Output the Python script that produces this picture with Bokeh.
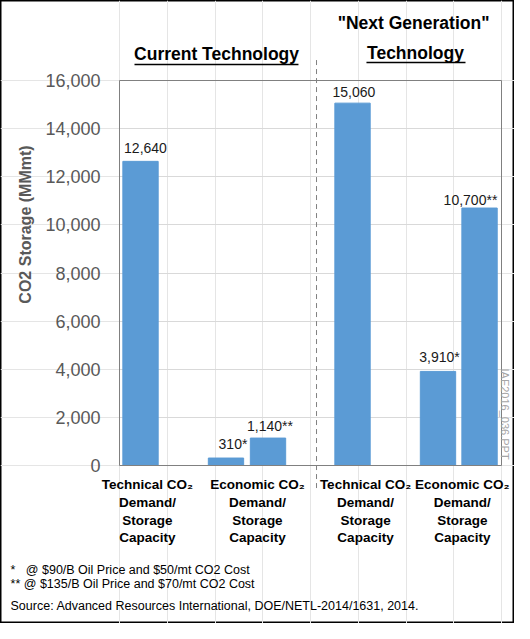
import math
from bokeh.plotting import figure
from bokeh.models import (Range1d, Label, FixedTicker, NumeralTickFormatter,
                          ColumnDataSource, LinearAxis, Grid)
from bokeh.embed import file_html
from bokeh.resources import INLINE

# ---------------- data ----------------
groups = ["Current Technology", "Current Technology", "Current Technology",
          "Next Generation Technology", "Next Generation Technology", "Next Generation Technology"]
bar_names = ["Technical", "Economic *", "Economic **", "Technical", "Economic *", "Economic **"]
values = [12640, 310, 1140, 15060, 3910, 10700]
value_labels = ["12,640", "310*", "1,140**", "15,060", "3,910*", "10,700**"]

category_lines = [
    ["Technical CO\u2082", "Demand/", "Storage", "Capacity"],
    ["Economic CO\u2082", "Demand/", "Storage", "Capacity"],
    ["Technical CO\u2082", "Demand/", "Storage", "Capacity"],
    ["Economic CO\u2082", "Demand/", "Storage", "Capacity"],
]
y_ticks = [0, 2000, 4000, 6000, 8000, 10000, 12000, 14000, 16000]
y_title = "CO2 Storage (MMmt)"
group_titles = ["Current Technology", "\"Next Generation\"", "Technology"]
footnotes = ["*\u00a0\u00a0\u00a0@ $90/B Oil Price and $50/mt CO2 Cost",
             "** @ $135/B Oil Price and $70/mt CO2 Cost"]
source_note = "Source: Advanced Resources International, DOE/NETL-2014/1631, 2014."
watermark = "IAE2016_036.PPT"

# ---------------- layout ----------------
X0, X1 = 0, 4          # plot area in x units
Y0, Y1 = 0, 16000      # plot area in y units
bar_x = [0.22, 1.115, 1.555, 2.44, 3.335, 3.77]
bar_w = 0.37
label_x = [0.272, 1.188, 1.576, 2.455, 3.351, 3.675]
label_dy = [575, 563, 522, 483, 620, 333]
cat_x = [0.293, 1.445, 2.576, 3.59]
cat_y = [-790, -1537, -2265, -2992]

FONT = "Liberation Sans"
W, H = 514, 623

p = figure(width=W, height=H, output_backend="svg", toolbar_location=None,
           x_range=Range1d(-1.2461, 4.1361), y_range=Range1d(-6566, 19325),
           x_axis_location=None, y_axis_location=None,
           min_border=0, min_border_left=0, min_border_right=0,
           min_border_top=0, min_border_bottom=0, title=None)
p.background_fill_color = "white"
p.border_fill_color = "white"
p.outline_line_color = "black"
p.outline_line_width = 2

# grid lines limited to plot area
grid_kw = dict(dimension=1, ticker=FixedTicker(ticks=y_ticks), grid_line_color="#d9d9d9")
if "cross_bounds" in Grid.properties():
    p.add_layout(Grid(cross_bounds=(X0, X1), **grid_kw))
else:
    p.segment(x0=[X0] * len(y_ticks), x1=[X1] * len(y_ticks), y0=y_ticks, y1=y_ticks,
              line_color="#d9d9d9", line_width=1)

src = ColumnDataSource(dict(x=bar_x, top=values, group=groups, name=bar_names))
p.vbar(x="x", top="top", width=bar_w, bottom=0, source=src,
       fill_color="#5B9BD5", line_color="#5B9BD5")

# axes
yax = LinearAxis(fixed_location=X0, bounds=(Y0, Y1),
                 ticker=FixedTicker(ticks=y_ticks),
                 formatter=NumeralTickFormatter(format="0,0"))
yax.major_tick_out = 0
yax.major_tick_in = 0
yax.minor_tick_out = 0
yax.minor_tick_in = 0
yax.major_label_standoff = 19
yax.major_label_text_font = FONT
yax.major_label_text_font_size = "18px"
yax.major_label_text_color = "#595959"
yax.axis_line_color = "#808080"
p.add_layout(yax, "left")


def frame_axis(loc, bounds, side):
    ax = LinearAxis(fixed_location=loc, bounds=bounds, ticker=FixedTicker(ticks=[]))
    ax.major_tick_out = 0
    ax.major_tick_in = 0
    ax.minor_tick_out = 0
    ax.minor_tick_in = 0
    ax.major_label_text_font_size = "0px"
    ax.axis_line_color = "#808080"
    p.add_layout(ax, side)


frame_axis(Y0, (X0, X1), "below")
frame_axis(Y1, (X0, X1), "above")
frame_axis(X1, (Y0, Y1), "right")

# value labels
for v, t, lx, dy in zip(values, value_labels, label_x, label_dy):
    p.add_layout(Label(x=lx, y=v + dy, text=t, text_align="center",
                       text_baseline="middle", text_font=FONT,
                       text_font_size="14px", text_color="#1a1a1a"))

# category labels
for cx, lines in zip(cat_x, category_lines):
    for cy, line in zip(cat_y, lines):
        p.add_layout(Label(x=cx, y=cy, text=line, text_align="center",
                           text_baseline="middle", text_font=FONT,
                           text_font_style="bold", text_font_size="13.5px",
                           text_color="black"))

# y title
p.add_layout(Label(x=-0.984, y=10015, text=y_title, angle=math.pi / 2,
                   text_align="center", text_baseline="middle", text_font=FONT,
                   text_font_style="bold", text_font_size="16px", text_color="#595959"))

# group titles
for tx, ty, t in zip([1.016, 3.079, 3.099], [17100, 18410, 17143], group_titles):
    p.add_layout(Label(x=tx, y=ty, text=t, text_align="center",
                       text_baseline="middle", text_font=FONT, text_font_style="bold",
                       text_font_size="17.5px", text_color="black"))
# underlines
p.segment(x0=[0.157, 2.586], x1=[1.874, 3.623], y0=[16670, 16748], y1=[16670, 16748],
          line_color="black", line_width=1.5)

# dashed separator
p.segment(x0=[2.063], x1=[2.063], y0=[16850], y1=[-956],
          line_color="#808080", line_width=1, line_dash="5 4")

# footnotes
for fy, t in zip([-4322, -4904], footnotes):
    p.add_layout(Label(x=-1.141, y=fy, text=t, text_align="left", text_baseline="middle",
                       text_font=FONT, text_font_size="12.5px", text_color="black"))
p.add_layout(Label(x=-1.141, y=-5818, text=source_note, text_align="left",
                   text_baseline="middle", text_font=FONT, text_font_size="12.5px",
                   text_color="black"))

# watermark
p.add_layout(Label(x=4.037, y=4031, text=watermark, angle=-math.pi / 2,
                   text_align="left", text_baseline="middle", text_font=FONT,
                   text_font_size="11px", text_color="#a6a6a6"))

open("out.html", "w").write(file_html(p, INLINE))
